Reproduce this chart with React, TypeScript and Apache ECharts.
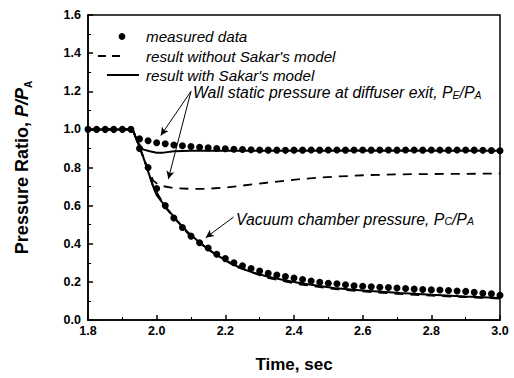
import React, { useEffect, useRef } from "react";
import * as echarts from "echarts";

// Measured wall static pressure at the diffuser exit, P_E/P_A  [time (s), ratio]
const wallMeasured: [number, number][] = [
  [1.8, 1.0], [1.825, 1.0], [1.85, 1.0], [1.875, 1.0], [1.9, 1.0], [1.925, 1.0],
  [1.95, 0.95], [1.975, 0.94], [2.0, 0.93], [2.025, 0.925], [2.05, 0.918], [2.075, 0.914],
  [2.1, 0.91], [2.125, 0.906], [2.15, 0.903], [2.175, 0.9], [2.2, 0.898], [2.225, 0.896],
  [2.25, 0.894], [2.275, 0.893], [2.3, 0.892], [2.325, 0.891], [2.35, 0.891], [2.375, 0.89],
  [2.4, 0.891], [2.425, 0.891], [2.45, 0.892], [2.475, 0.891], [2.5, 0.892], [2.525, 0.892],
  [2.55, 0.891], [2.575, 0.892], [2.6, 0.892], [2.625, 0.891], [2.65, 0.892], [2.675, 0.892],
  [2.7, 0.891], [2.725, 0.892], [2.75, 0.892], [2.775, 0.891], [2.8, 0.892], [2.825, 0.892],
  [2.85, 0.891], [2.875, 0.892], [2.9, 0.892], [2.925, 0.891], [2.95, 0.89], [2.975, 0.889],
  [3.0, 0.888],
];

// Measured vacuum chamber pressure, P_C/P_A
const chamberMeasured: [number, number][] = [
  [1.95, 0.9], [1.975, 0.8], [2.0, 0.69], [2.025, 0.6], [2.05, 0.535], [2.075, 0.485],
  [2.1, 0.44], [2.125, 0.405], [2.15, 0.378], [2.175, 0.345], [2.2, 0.322], [2.225, 0.3],
  [2.25, 0.285], [2.275, 0.27], [2.3, 0.257], [2.325, 0.245], [2.35, 0.236], [2.375, 0.228],
  [2.4, 0.22], [2.425, 0.212], [2.45, 0.205], [2.475, 0.198], [2.5, 0.193], [2.525, 0.19],
  [2.55, 0.185], [2.575, 0.18], [2.6, 0.177], [2.625, 0.174], [2.65, 0.172], [2.675, 0.17],
  [2.7, 0.168], [2.725, 0.165], [2.75, 0.162], [2.775, 0.16], [2.8, 0.158], [2.825, 0.157],
  [2.85, 0.155], [2.875, 0.152], [2.9, 0.15], [2.925, 0.145], [2.95, 0.14], [2.975, 0.138],
  [3.0, 0.13],
];

// Simulation without Sakar's model
const wallWithout: [number, number][] = [
  [1.8, 1.0], [1.93, 1.0], [1.96, 0.86], [1.99, 0.73], [2.01, 0.705], [2.05, 0.692],
  [2.1, 0.688], [2.146, 0.688], [2.2, 0.695], [2.25, 0.705], [2.32, 0.72], [2.42, 0.74],
  [2.52, 0.752], [2.61, 0.76], [2.7, 0.764], [2.81, 0.766], [3.0, 0.768],
];
const chamberWithout: [number, number][] = [
  [1.8, 1.0], [1.93, 1.0], [1.96, 0.86], [1.99, 0.7], [2.03, 0.58], [2.09, 0.455],
  [2.15, 0.37], [2.224, 0.285], [2.32, 0.222], [2.42, 0.186], [2.52, 0.162], [2.6, 0.15],
  [2.7, 0.137], [2.8, 0.128], [2.9, 0.12], [3.0, 0.112],
];

// Simulation with Sakar's model
const wallWith: [number, number][] = [
  [1.8, 1.0], [1.93, 1.0], [1.945, 0.93], [1.96, 0.895], [1.98, 0.885], [2.0, 0.877],
  [2.02, 0.878], [2.05, 0.885], [2.1, 0.888], [2.3, 0.888], [2.6, 0.889], [3.0, 0.888],
];
const chamberWith: [number, number][] = [
  [1.8, 1.0], [1.93, 1.0], [1.945, 0.93], [1.96, 0.86], [1.975, 0.78], [1.99, 0.7],
  [2.0, 0.655], [2.03, 0.584], [2.06, 0.52], [2.09, 0.462], [2.12, 0.415], [2.147, 0.375],
  [2.18, 0.335], [2.224, 0.29], [2.27, 0.255], [2.322, 0.228], [2.37, 0.21], [2.42, 0.193],
  [2.47, 0.18], [2.516, 0.168], [2.6, 0.155], [2.71, 0.141], [2.8, 0.132], [2.9, 0.123],
  [3.0, 0.115],
];

// Annotation arrows: [from, to] in data coordinates
const arrows: [[number, number], [number, number]][] = [
  [[2.1, 1.2], [2.012, 0.968]],
  [[2.1, 1.2], [2.034, 0.74]],
  [[2.224, 0.54], [2.143, 0.432]],
];

const legendLabels = ["measured data", "result without Sakar's model", "result with Sakar's model"];
const legendRows = [36.5, 56, 75];

const FONT = "'Liberation Sans', Arial, Helvetica, sans-serif";

export default function App() {
  const ref = useRef<HTMLDivElement>(null);

  useEffect(() => {
    const chart = echarts.init(ref.current!, null, { renderer: "svg" });

    const dashed = { color: "#000", width: 1.8, type: [9, 7] as number[] };
    const solid = { color: "#000", width: 2 };
    const dot = { color: "#000", opacity: 1 };

    const annotationRich = {
      m: { font: `italic 15.8px ${FONT}`, fill: "#000", lineHeight: 15 },
      s: { font: `italic 10.5px ${FONT}`, fill: "#000", lineHeight: 11, verticalAlign: "bottom" },
    };

    const option: echarts.EChartsOption = {
      animation: false,
      backgroundColor: "#fff",
      textStyle: { fontFamily: FONT },
      grid: {
        left: 88,
        right: 14,
        top: 15,
        bottom: 55,
        show: true,
        borderColor: "#000",
        borderWidth: 1.5,
        backgroundColor: "transparent",
      },
      xAxis: {
        type: "value",
        min: 1.8,
        max: 3.0,
        interval: 0.2,
        name: "Time, sec",
        nameLocation: "middle",
        nameGap: 36,
        nameTextStyle: { fontFamily: FONT, fontWeight: "bold", fontSize: 17, color: "#000" },
        axisLine: { onZero: false, lineStyle: { color: "#000", width: 1.5 } },
        axisTick: { inside: true, length: 5, lineStyle: { color: "#000", width: 1.5 } },
        minorTick: { show: true, splitNumber: 2, length: 3, lineStyle: { color: "#000", width: 1 } },
        axisLabel: {
          margin: 4,
          fontFamily: FONT,
          fontWeight: "bold",
          fontSize: 12.5,
          color: "#000",
          formatter: (v: number) => v.toFixed(1),
        },
        splitLine: { show: false },
      },
      yAxis: {
        type: "value",
        min: 0,
        max: 1.6,
        interval: 0.2,
        name: "{n|Pressure Ratio, }{i|P/P}{s|A}",
        nameLocation: "middle",
        nameRotate: 90,
        nameGap: 55,
        nameTextStyle: {
          color: "#000",
          rich: {
            n: { fontFamily: FONT, fontWeight: "bold", fontSize: 18, lineHeight: 22, color: "#000" },
            i: { fontFamily: FONT, fontWeight: "bold", fontStyle: "italic", fontSize: 18, lineHeight: 22, color: "#000" },
            s: { fontFamily: FONT, fontWeight: "bold", fontSize: 10, lineHeight: 12, verticalAlign: "bottom", color: "#000" },
          },
        },
        axisLine: { lineStyle: { color: "#000", width: 1.5 } },
        axisTick: { inside: true, length: 5, lineStyle: { color: "#000", width: 1.5 } },
        minorTick: { show: true, splitNumber: 2, length: 3, lineStyle: { color: "#000", width: 1 } },
        axisLabel: {
          margin: 7,
          fontFamily: FONT,
          fontWeight: "bold",
          fontSize: 12.5,
          color: "#000",
          formatter: (v: number) => v.toFixed(1),
        },
        splitLine: { show: false },
      },
      series: [
        {
          name: "result without Sakar's model",
          type: "line",
          data: wallWithout,
          showSymbol: false,
          lineStyle: dashed,
          itemStyle: dot,
        },
        {
          name: "result without Sakar's model",
          type: "line",
          data: chamberWithout,
          showSymbol: false,
          lineStyle: dashed,
          itemStyle: dot,
        },
        {
          name: "result with Sakar's model",
          type: "line",
          data: wallWith,
          showSymbol: false,
          lineStyle: solid,
          itemStyle: dot,
        },
        {
          name: "result with Sakar's model",
          type: "line",
          data: chamberWith,
          showSymbol: false,
          lineStyle: solid,
          itemStyle: dot,
        },
        {
          name: "measured data",
          type: "scatter",
          data: wallMeasured,
          symbol: "circle",
          symbolSize: 7,
          itemStyle: dot,
          markLine: {
            silent: true,
            symbol: ["none", "arrow"],
            symbolSize: [6, 8],
            label: { show: false },
            lineStyle: { color: "#000", width: 1, type: "solid", opacity: 1 },
            data: arrows.map(([a, b]) => [{ coord: a }, { coord: b }]) as any,
          },
        },
        {
          name: "measured data",
          type: "scatter",
          data: chamberMeasured,
          symbol: "circle",
          symbolSize: 7,
          itemStyle: dot,
        },
      ],
      graphic: [
        // legend keys
        { type: "circle", shape: { cx: 122, cy: legendRows[0], r: 3.4 }, style: { fill: "#000" } },
        {
          type: "line",
          shape: { x1: 98, y1: legendRows[1], x2: 124, y2: legendRows[1] },
          style: { stroke: "#000", lineWidth: 1.8, lineDash: [8, 6] },
        },
        {
          type: "line",
          shape: { x1: 107, y1: legendRows[2], x2: 139, y2: legendRows[2] },
          style: { stroke: "#000", lineWidth: 2 },
        },
        ...legendLabels.map((t, i) => ({
          type: "text" as const,
          x: 146,
          y: legendRows[i],
          style: {
            text: t,
            font: `italic 15.2px ${FONT}`,
            fill: "#000",
            lineHeight: 14,
            verticalAlign: "middle",
            textVerticalAlign: "middle",
          },
        })),
        // curve annotations
        {
          type: "text",
          x: 193,
          y: 92.5,
          style: {
            text: "{m|Wall static pressure at diffuser exit, P}{s|E}{m|/P}{s|A}",
            verticalAlign: "middle",
            textVerticalAlign: "middle",
            rich: annotationRich,
          } as any,
        },
        {
          type: "text",
          x: 236,
          y: 219,
          style: {
            text: "{m|Vacuum chamber pressure, P}{s|C}{m|/P}{s|A}",
            verticalAlign: "middle",
            textVerticalAlign: "middle",
            rich: annotationRich,
          } as any,
        },
      ],
    };

    chart.setOption(option);
    return () => chart.dispose();
  }, []);

  return (
    <div
      ref={ref}
      style={{ position: "absolute", left: 0, top: 0, width: 514, height: 378, background: "#fff" }}
    />
  );
}
